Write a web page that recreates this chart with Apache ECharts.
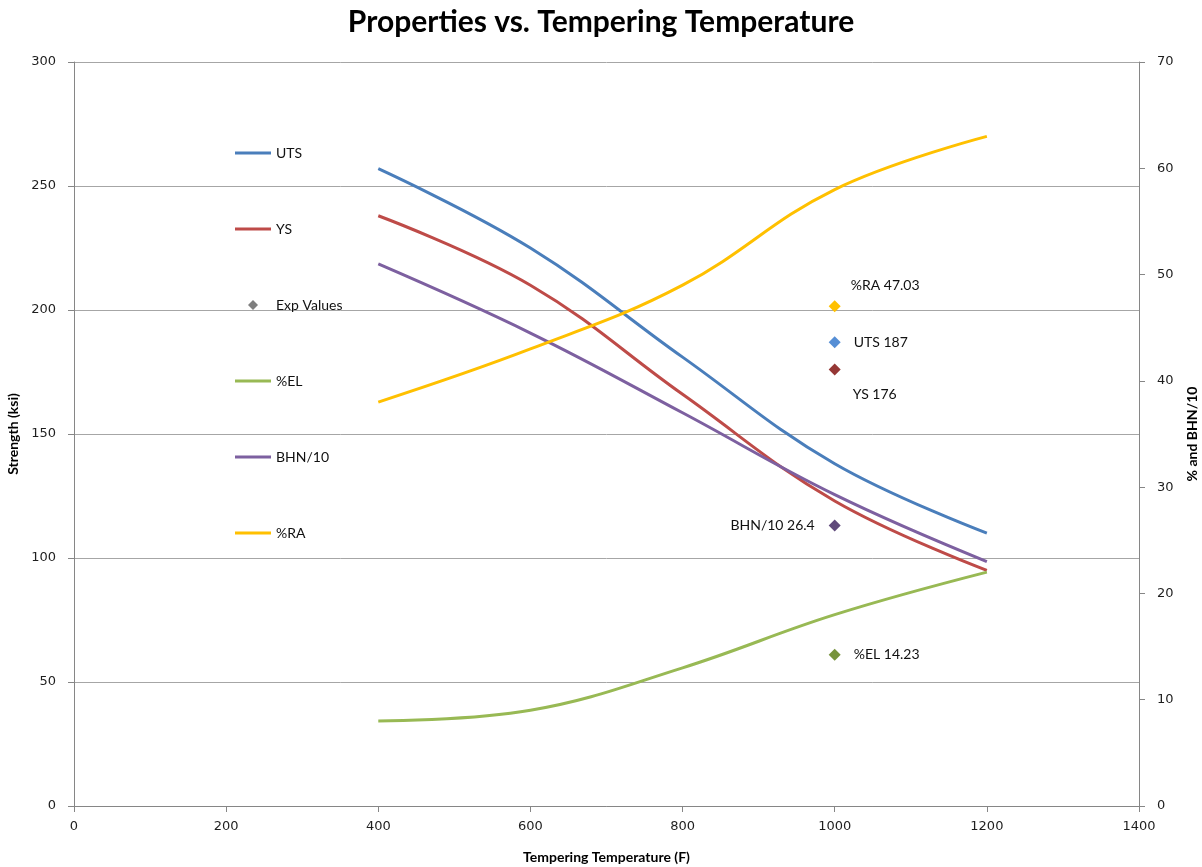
<!DOCTYPE html>
<html>
<head>
<meta charset="utf-8">
<script src="https://cdn.jsdelivr.net/npm/echarts@6/dist/echarts.min.js"></script>
<style>
  html, body { margin: 0; padding: 0; background: #fff; }
  #chart { width: 1202px; height: 867px; }
</style>
</head>
<body>
<div id="chart"></div>
<script>
// Tempering temperatures (F) at which the properties were measured
const temps = [400, 600, 800, 1000, 1200];

// Strength curves (ksi), left axis
const uts = [257, 225, 181, 138, 110];
const ys  = [238, 210, 166, 123, 95];

// Percent and hardness curves, right axis
const el     = [8, 9, 13, 18, 22];
const bhn10  = [51, 44.5, 37, 29.3, 23];
const ra     = [38, 43, 49, 58, 63];

// Experimental values measured at one temperature
const expTemp = 1000;
const expUTS = 187;
const expYS = 176;
const expRA = 47.03;
const expBHN10 = 26.4;
const expEL = 14.23;

const legendNames = ['UTS', 'YS', 'Exp Values', '%EL', 'BHN/10', '%RA'];

const LINE_ICON = 'path://M0,0H36V3H0Z';
const DIAMOND_ICON = 'path://M5,0L10,5L5,10L0,5Z';

const pair = (vals) => temps.map((t, i) => [t, vals[i]]);

function curve(name, vals, color, axis) {
  return {
    name: name, type: 'line', yAxisIndex: axis,
    data: pair(vals), smooth: 0.4, symbol: 'none',
    lineStyle: { color: color, width: 3 }, itemStyle: { color: color },
    z: 2
  };
}

function expPoint(name, value, color, axis, label) {
  return {
    name: name, type: 'scatter', yAxisIndex: axis,
    data: [[expTemp, value]],
    symbol: 'diamond', symbolSize: 12,
    itemStyle: { color: color, opacity: 1 },
    label: Object.assign({
      show: true,
      formatter: name + ' ' + value,
      color: '#111111', fontFamily: 'Lato', fontSize: 14
    }, label),
    z: 5
  };
}

const tickLabel = { fontFamily: 'DejaVu Sans', fontSize: 13, color: '#1e1e1e', formatter: (v) => String(v) };
const axisName = { fontFamily: 'Lato', fontWeight: 'bold', fontSize: 14, color: '#000' };
const axisLine = { show: true, lineStyle: { color: '#868686', width: 1 } };
const axisTick = { show: true, inside: false, length: 6, lineStyle: { color: '#868686' } };

const chart = echarts.init(document.getElementById('chart'));
chart.setOption({
  animation: false,
  backgroundColor: '#ffffff',
  title: {
    text: 'Properties vs. Tempering Temperature',
    left: 'center', top: 2,
    textStyle: { fontFamily: 'Lato', fontWeight: 'bold', fontSize: 30, color: '#000' }
  },
  grid: { left: 74, right: 63, top: 62, bottom: 61, outerBoundsMode: 'none', containLabel: false },
  legend: {
    data: legendNames.map((n) => ({ name: n, icon: n === 'Exp Values' ? DIAMOND_ICON : LINE_ICON })),
    orient: 'vertical', left: 235, top: 146,
    itemWidth: 36, itemHeight: 10, itemGap: 62,
    padding: 0,
    textStyle: { fontFamily: 'Lato', fontSize: 14, color: '#111111', lineHeight: 14 }
  },
  xAxis: {
    type: 'value', min: 0, max: 1400, interval: 200,
    name: 'Tempering Temperature (F)', nameLocation: 'middle', nameGap: 44,
    nameTextStyle: axisName,
    axisLine: axisLine, axisTick: axisTick,
    axisLabel: Object.assign({ margin: 14 }, tickLabel),
    splitLine: { show: false }
  },
  yAxis: [
    {
      type: 'value', min: 0, max: 300, interval: 50, position: 'left',
      name: 'Strength (ksi)', nameLocation: 'middle', nameGap: 50, nameRotate: 90,
      nameTextStyle: axisName,
      axisLine: axisLine, axisTick: axisTick,
      axisLabel: Object.assign({ margin: 18 }, tickLabel),
      splitLine: { show: true, lineStyle: { color: '#a6a6a6', width: 1 } }
    },
    {
      type: 'value', min: 0, max: 70, interval: 10, position: 'right',
      name: '% and BHN/10', nameLocation: 'middle', nameGap: 46, nameRotate: 90,
      nameTextStyle: axisName,
      axisLine: axisLine, axisTick: axisTick,
      axisLabel: Object.assign({ margin: 18 }, tickLabel),
      splitLine: { show: false }
    }
  ],
  series: [
    curve('UTS', uts, '#4a7ebb', 0),
    curve('YS', ys, '#be4b48', 0),
    curve('BHN/10', bhn10, '#7d60a0', 1),
    curve('%EL', el, '#98b954', 1),
    curve('%RA', ra, '#ffc000', 1),
    {
      name: 'Exp Values', type: 'scatter', data: [],
      symbol: 'diamond', symbolSize: 10, itemStyle: { color: '#7f7f7f', opacity: 1 }
    },
    expPoint('%RA', expRA, '#ffc000', 1, { position: 'right', distance: 10, offset: [0, -21] }),
    expPoint('UTS', expUTS, '#558ed5', 0, { position: 'right', distance: 13 }),
    expPoint('YS', expYS, '#953735', 0, { position: 'right', distance: 12, offset: [0, 25] }),
    expPoint('BHN/10', expBHN10, '#604a7b', 1, { position: 'left', distance: 14 }),
    expPoint('%EL', expEL, '#77933c', 1, { position: 'right', distance: 13 })
  ]
});
</script>
</body>
</html>
